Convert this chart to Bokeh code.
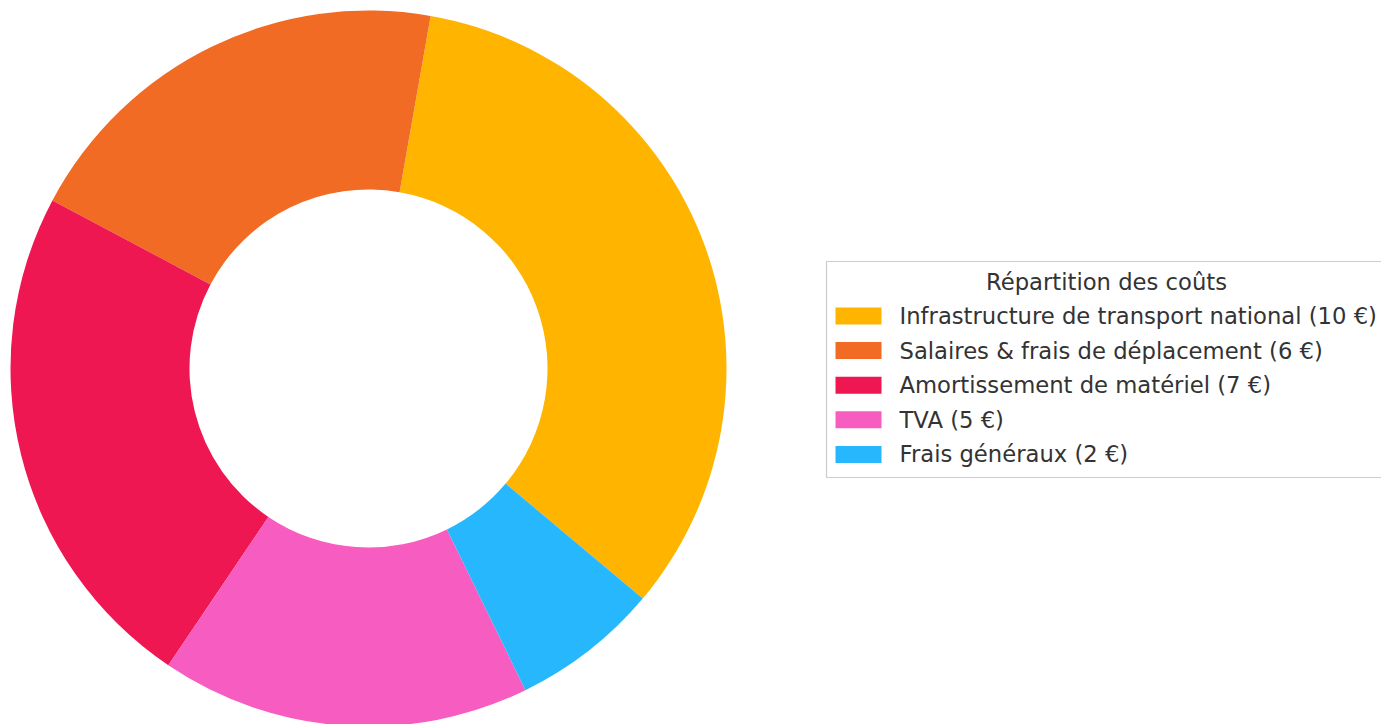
import numpy as np
from bokeh.plotting import figure
from bokeh.models import Range1d, ColumnDataSource
from bokeh.core.properties import value
from bokeh.embed import file_html
from bokeh.resources import INLINE

# ---- data ----
categories = ["Infrastructure de transport national", "Salaires & frais de déplacement",
              "Amortissement de matériel", "TVA", "Frais généraux"]
values = [10, 6, 7, 5, 2]
colors = ["#FFB400", "#F26B25", "#EE1751", "#F75CC0", "#27B7FD"]
legend_title = "Répartition des coûts"
start_deg = -40

W, H = 1381, 724
p = figure(width=W, height=H, output_backend="svg", toolbar_location=None,
           x_range=Range1d(0, W), y_range=Range1d(0, H), min_border=0)
p.axis.visible = False
p.grid.visible = False
p.outline_line_color = None
p.background_fill_color = "white"
p.border_fill_color = "white"

vals = np.array(values, dtype=float)
frac = vals / vals.sum()
ends = np.deg2rad(start_deg) + np.cumsum(frac) * 2 * np.pi
starts = ends - frac * 2 * np.pi
src = ColumnDataSource(dict(start=starts, end=ends, color=colors))
cx, cy = 368, H - 368
p.annular_wedge(x=cx, y=cy, inner_radius=179, outer_radius=358,
                start_angle="start", end_angle="end", direction="anticlock",
                fill_color="color", line_color=None, source=src)

# ---- legend ----
font = value("DejaVu Sans")
fs = value("22.7px")
txt_col = "#333333"
p.quad(left=826, right=1420, top=H - 261, bottom=H - 477,
       fill_color="white", line_color="#cccccc", line_width=1.2)
p.text(x=[1106], y=[H - 281], text=[legend_title], text_font=font, text_font_size=fs,
       text_color=txt_col, text_align="center", text_baseline="middle")
labels = [f"{c} ({v} €)" for c, v in zip(categories, values)]
n = len(labels)
rows = np.array([H - 315.5 - 34.6 * i for i in range(n)], dtype=float)
p.rect(x=[858] * n, y=rows, width=46, height=17,
       fill_color=colors, line_color=None)
p.text(x=[899] * n, y=rows, text=labels, text_font=font, text_font_size=fs,
       text_color=txt_col, text_align="left", text_baseline="middle")

open("out.html", "w").write(file_html(p, INLINE))
